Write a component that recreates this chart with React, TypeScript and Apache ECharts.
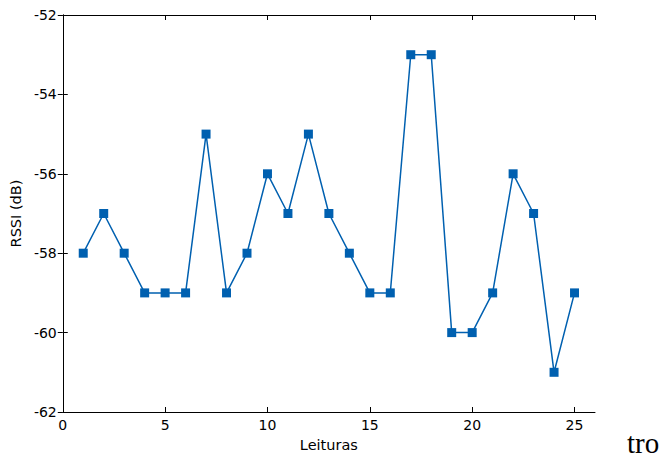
import React, { useEffect, useRef } from "react";
import * as echarts from "echarts";

const leituras = [1, 2, 3, 4, 5, 6, 7, 8, 9, 10, 11, 12, 13, 14, 15, 16, 17, 18, 19, 20, 21, 22, 23, 24, 25];
const rssi = [-58, -57, -58, -59, -59, -59, -55, -59, -58, -56, -57, -55, -57, -58, -59, -59, -53, -53, -60, -60, -59, -56, -57, -61, -59];
const xLabel = "Leituras";
const yLabel = "RSSI (dB)";

export default function App() {
  const ref = useRef<HTMLDivElement>(null);
  useEffect(() => {
    const chart = echarts.init(ref.current!, null, { renderer: "svg" });
    const font = "DejaVu Sans";
    const axisLine = { show: true, lineStyle: { color: "#000", width: 1 } };
    const tick = { show: true, inside: true, length: 5, lineStyle: { color: "#000" } };
    chart.setOption({
      animation: false,
      backgroundColor: "#fff",
      grid: { left: 60, top: 15, width: 535, height: 397, containLabel: false },
      xAxis: [
        {
          type: "value", min: 0, max: 26, interval: 5,
          name: xLabel, nameLocation: "middle", nameGap: 25,
          nameTextStyle: { fontFamily: font, fontSize: 14.5, color: "#000" },
          axisLine, axisTick: tick, splitLine: { show: false },
          axisLabel: { fontFamily: font, fontSize: 14, color: "#000", margin: 6,
            showMaxLabel: false },
        },
        {
          type: "value", min: 0, max: 26, interval: 5, position: "top",
          axisLine, axisTick: tick, splitLine: { show: false }, axisLabel: { show: false },
        },
      ],
      yAxis: [
        {
          type: "value", min: -62, max: -52, interval: 2,
          name: yLabel, nameLocation: "middle", nameGap: 34,
          nameTextStyle: { fontFamily: font, fontSize: 14.5, color: "#000" },
          axisLine, axisTick: tick, splitLine: { show: false },
          axisLabel: { fontFamily: font, fontSize: 14, color: "#000", margin: 6 },
        },
        {
          type: "value", min: -62, max: -52, interval: 2, position: "right",
          axisLine, axisTick: tick, splitLine: { show: false }, axisLabel: { show: false },
        },
      ],
      series: [
        {
          type: "line",
          data: leituras.map((x, i) => [x, rssi[i]]),
          symbol: "rect", symbolSize: 9,
          lineStyle: { color: "#0060b0", width: 1.5 },
          itemStyle: { color: "#0060b0" },
        },
      ],
      graphic: [
        {
          type: "text", left: 627, top: 428,
          style: { text: "tro", fontFamily: "Liberation Serif", fontSize: 29, fill: "#000" },
        },
      ],
    });
    return () => chart.dispose();
  }, []);
  return <div ref={ref} style={{ width: 667, height: 459, position: "absolute", left: 0, top: 0 }} />;
}
